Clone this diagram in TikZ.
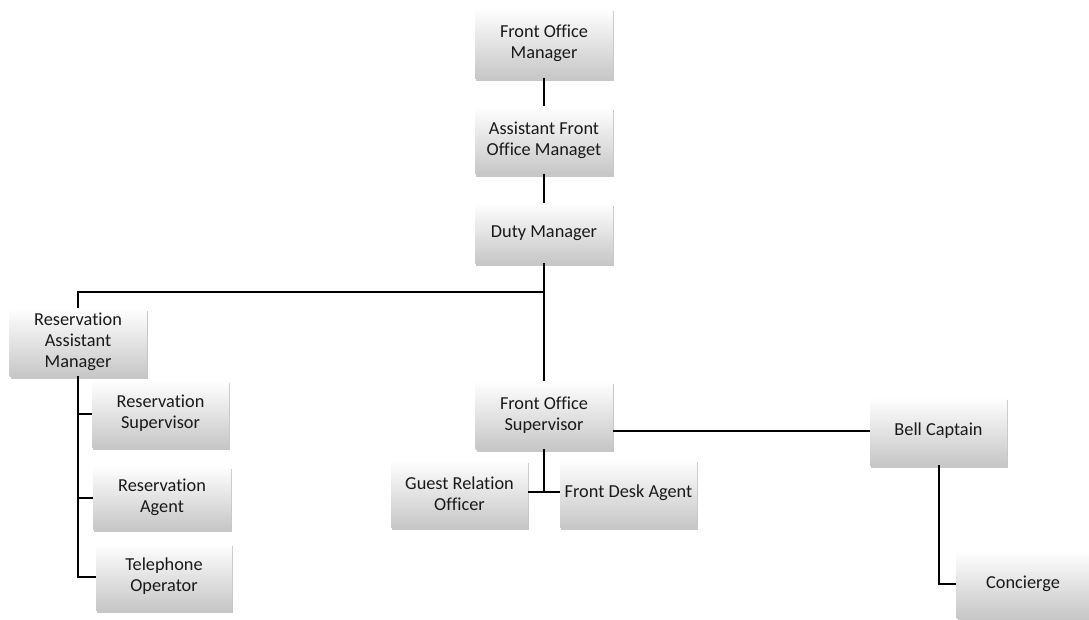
\documentclass[tikz,border=0pt]{standalone}
\usepackage{fontspec}
\setmainfont[Ligatures=NoCommon]{Carlito}
\usetikzlibrary{shadows}
\tikzset{
  box/.style={rectangle, draw=none, top color=white, bottom color=black!22,
    align=center, inner sep=2pt, text=black!90,
    font=\fontsize{18.3}{21}\selectfont,
    drop shadow={shadow xshift=1pt, shadow yshift=-3pt, fill=black, opacity=0.22}},
  conn/.style={draw=black, line width=2pt}
}
\begin{document}
\begin{tikzpicture}[x=1pt,y=-1pt]
\useasboundingbox (0,0) rectangle (1089,619);
\node[box, minimum width=138pt, minimum height=70pt] (fom) at (544,43) {Front Office\\Manager};
\node[box, minimum width=138pt, minimum height=67pt] (afom) at (544,140) {Assistant Front\\Office Managet};
\node[box, minimum width=138pt, minimum height=60pt] (dm) at (544,233) {Duty Manager};
\node[box, minimum width=137pt, minimum height=68pt] (ram) at (78,342) {Reservation\\Assistant\\Manager};
\node[box, minimum width=137pt, minimum height=67pt] (rs) at (160.5,413.5) {Reservation\\Supervisor};
\node[box, minimum width=138pt, minimum height=63pt] (ra) at (162,497.5) {Reservation\\Agent};
\node[box, minimum width=136pt, minimum height=67pt] (to) at (164,576.5) {Telephone\\Operator};
\node[box, minimum width=137pt, minimum height=68pt] (fos) at (544,415) {Front Office\\Supervisor};
\node[box, minimum width=137pt, minimum height=67pt] (gro) at (459.5,493.5) {Guest Relation\\Officer};
\node[box, minimum width=137pt, minimum height=68pt] (fda) at (628.5,493) {Front Desk Agent};
\node[box, minimum width=137pt, minimum height=68pt] (bc) at (938.5,431) {Bell Captain};
\node[box, minimum width=133pt, minimum height=68pt] (con) at (1023,584) {Concierge};

\coordinate (j1) at (544,292);
\coordinate (j2) at (544,492);
\path[conn] (fom.south) -- (afom.north);
\path[conn] (afom.south) -- (dm.north);
\path[conn] (dm.south) -- (fos.north);
\path[conn] (j1) -| (ram.north);
\path[conn] (ram.south) |- (to.west);
\path[conn] (ram.south |- rs.west) -- (rs.west);
\path[conn] (ram.south |- ra.west) -- (ra.west);
\path[conn] (fos.east |- bc.west) -- (bc.west);
\path[conn] (fos.south) -- (j2);
\path[conn] (gro.east |- j2) -- (fda.west |- j2);
\path[conn] (bc.south) |- (con.west);
\end{tikzpicture}
\end{document}
